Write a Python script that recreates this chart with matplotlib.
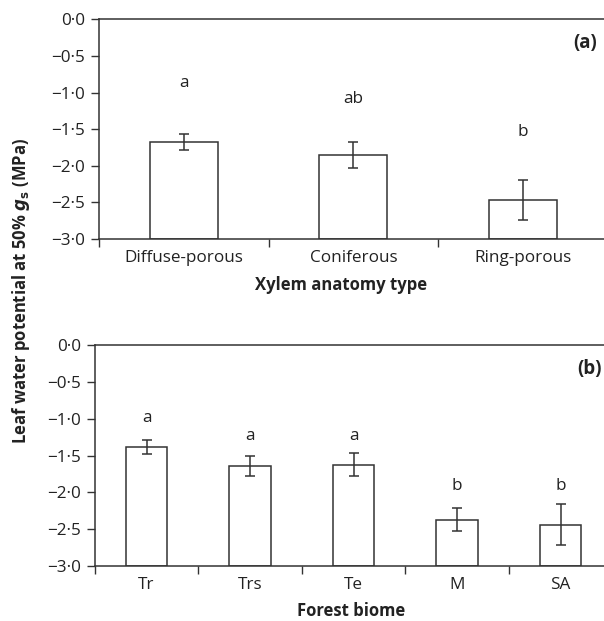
import matplotlib.pyplot as plt
import numpy as np

plt.rcParams['font.family'] = ['Open Sans', 'DejaVu Sans']

# Panel (a): xylem anatomy
xylem_types = ["Diffuse-porous", "Coniferous", "Ring-porous"]
xylem_mean = [-1.68, -1.855, -2.47]
xylem_err = [0.11, 0.18, 0.27]
xylem_letters = ["a", "ab", "b"]
xylem_letter_y = [-0.87, -1.09, -1.54]

# Panel (b): forest biome
biomes = ["Tr", "Trs", "Te", "M", "SA"]
biome_mean = [-1.38, -1.64, -1.625, -2.37, -2.44]
biome_err = [0.095, 0.135, 0.16, 0.16, 0.275]
biome_letters = ["a", "a", "a", "b", "b"]
biome_letter_y = [-0.995, -1.235, -1.235, -1.91, -1.91]

yticks = [0.0, -0.5, -1.0, -1.5, -2.0, -2.5, -3.0]
yticklabels = ["0·0", "−0·5", "−1·0", "−1·5", "−2·0", "−2·5", "−3·0"]

ink = "#333333"
txt = "#222222"
fs = 12.3

fig = plt.figure(figsize=(6.04, 6.21), dpi=100)
ax_a = fig.add_axes([0.164, 0.615, 0.842, 0.354])
ax_b = fig.add_axes([0.157, 0.0886, 0.857, 0.3558])


def draw_panel(ax, cats, means, errs, letters, letter_y, tag):
    x = np.arange(len(cats))
    base = -3.0
    heights = np.array(means) - base
    ax.bar(x, heights, bottom=base, width=0.4, color="white",
           edgecolor=ink, linewidth=1.1, zorder=2)
    ax.errorbar(x, means, yerr=errs, fmt="none", ecolor=ink,
                elinewidth=1.1, capsize=3.5, capthick=1.1, zorder=3)
    for xi, lab, ly in zip(x, letters, letter_y):
        ax.text(xi, ly, lab, ha="center", va="center", fontsize=fs, color=txt)
    ax.set_xlim(-0.5, len(cats) - 0.5)
    ax.set_ylim(-3.0, 0.0)
    ax.set_yticks(yticks)
    ax.set_yticklabels(yticklabels, fontsize=fs, color=txt)
    ax.set_xticks(x)
    ax.set_xticklabels(cats, fontsize=fs, color=txt)
    ax.tick_params(axis="x", which="major", length=0, pad=8)
    ax.set_xticks(np.arange(len(cats) + 1) - 0.5, minor=True)
    ax.tick_params(axis="x", which="minor", length=5.5, width=1.0, color=ink, direction="out")
    ax.tick_params(axis="y", length=6, width=1.0, color=ink, direction="out", pad=4)
    ax.spines["right"].set_visible(False)
    for s in ("left", "bottom", "top"):
        ax.spines[s].set_color(ink)
        ax.spines[s].set_linewidth(1.1)
    ax.text(0.955, 0.89, tag, transform=ax.transAxes, ha="center", va="center",
            fontsize=13.5, fontweight="bold", color=txt)


draw_panel(ax_a, xylem_types, xylem_mean, xylem_err, xylem_letters, xylem_letter_y, "(a)")
draw_panel(ax_b, biomes, biome_mean, biome_err, biome_letters, biome_letter_y, "(b)")

fig.text(341 / 604, 1 - 285 / 621, "Xylem anatomy type", ha="center", va="center",
         fontsize=12, fontweight="bold", color=txt)
fig.text(351 / 604, 1 - 611 / 621, "Forest biome", ha="center", va="center",
         fontsize=12, fontweight="bold", color=txt)
fig.text(21 / 604, 1 - 291 / 621, r"Leaf water potential at 50% $\boldsymbol{g}_\mathbf{s}$ (MPa)",
         rotation=90, ha="center", va="center", fontsize=12, fontweight="bold",
         color=txt)

fig.savefig("out.png", dpi=100)
